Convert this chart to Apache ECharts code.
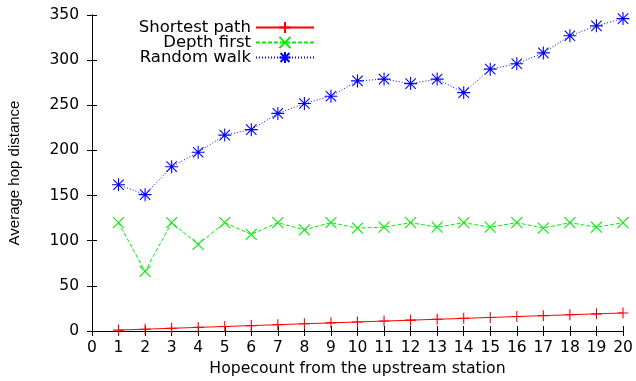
<!DOCTYPE html>
<html>
<head>
<meta charset="utf-8">
<script src="https://cdn.jsdelivr.net/npm/echarts@6/dist/echarts.min.js"></script>
<style>html,body{margin:0;padding:0;background:#fff}#c{width:636px;height:381px}</style>
</head>
<body>
<div id="c"></div>
<script>
var hops = [1,2,3,4,5,6,7,8,9,10,11,12,13,14,15,16,17,18,19,20];
var shortestPath = [1,2,3,4,5,6,7,8,9,10,11,12,13,14,15,16,17,18,19,20];
var depthFirst = [120,66,120,96,120,107,120,112,120,114,115,120,115,120,115,120,114,120,115,120];
var randomWalk = [162,151,182,198,217,223,241,252,260,277,279,274,279,264,290,296,308,327,338,346];
var seriesNames = ['Shortest path','Depth first','Random walk'];
var xTitle = 'Hopecount from the upstream station';
var yTitle = 'Average hop distance';

var FONT = 'DejaVu Sans, sans-serif';
var FONT_Y = 'Liberation Sans, Arial, sans-serif';
var PLUS = 'path://M0,5L10,5M5,0L5,10';
var CROSS = 'path://M0,0L10,10M0,10L10,0';
var STAR = 'path://M0,5L10,5M5,0L5,10M1,1L9,9M1,9L9,1';

function pairs(ys){ return hops.map(function(h,i){ return [h, ys[i]]; }); }

function mk(name, ys, color, sym, size, ltype){
  return {
    name: name, type: 'line', data: pairs(ys),
    symbol: sym, symbolSize: size, showSymbol: true,
    lineStyle: {color: color, width: 1, type: ltype},
    itemStyle: {color: color, borderColor: color, borderWidth: 1.1},
    emphasis: {disabled: true},
    animation: false, z: 3
  };
}

var chart = echarts.init(document.getElementById('c'), null, {renderer: 'canvas'});
var axisCommon = {
  type: 'value',
  axisLine: {show: true, lineStyle: {color: '#000', width: 1}},
  axisTick: {show: true, inside: true, length: 5, lineStyle: {color: '#000'}},
  splitLine: {show: false}
};
chart.setOption({
  animation: false,
  grid: {left: 92, right: 13, top: 15, bottom: 50, outerBoundsMode: 'none', containLabel: false},
  legend: {
    orient: 'vertical', align: 'right', right: 321, top: 19, padding: 0,
    itemWidth: 58, itemHeight: 14, itemGap: -2,
    textStyle: {fontFamily: FONT, fontSize: 16.5, color: '#000'},
    data: seriesNames
  },
  xAxis: [
    Object.assign({}, axisCommon, {
      min: 0, max: 20, interval: 1, position: 'bottom',
      axisLabel: {color: '#000', fontFamily: FONT, fontSize: 15.5, margin: 9},
      name: xTitle, nameLocation: 'middle', nameGap: 29,
      nameTextStyle: {color: '#000', fontFamily: FONT, fontSize: 15.7}
    }),
    Object.assign({}, axisCommon, {
      min: 0, max: 20, interval: 1, position: 'top',
      axisLabel: {show: false}
    })
  ],
  yAxis: [
    Object.assign({}, axisCommon, {
      min: 0, max: 350, interval: 50, position: 'left',
      axisLabel: {color: '#000', fontFamily: FONT, fontSize: 15.5, margin: 13},
      name: yTitle, nameLocation: 'middle', nameGap: 70, nameRotate: 90,
      nameTextStyle: {color: '#000', fontFamily: FONT_Y, fontSize: 15}
    }),
    Object.assign({}, axisCommon, {
      min: 0, max: 350, interval: 50, position: 'right',
      axisLabel: {show: false}
    })
  ],
  series: [
    mk(seriesNames[0], shortestPath, '#ff0000', PLUS, 11, 'solid'),
    mk(seriesNames[1], depthFirst, '#00ee00', CROSS, 11, [4, 2]),
    mk(seriesNames[2], randomWalk, '#0000ff', STAR, 13, [1, 2])
  ]
});
</script>
</body>
</html>
